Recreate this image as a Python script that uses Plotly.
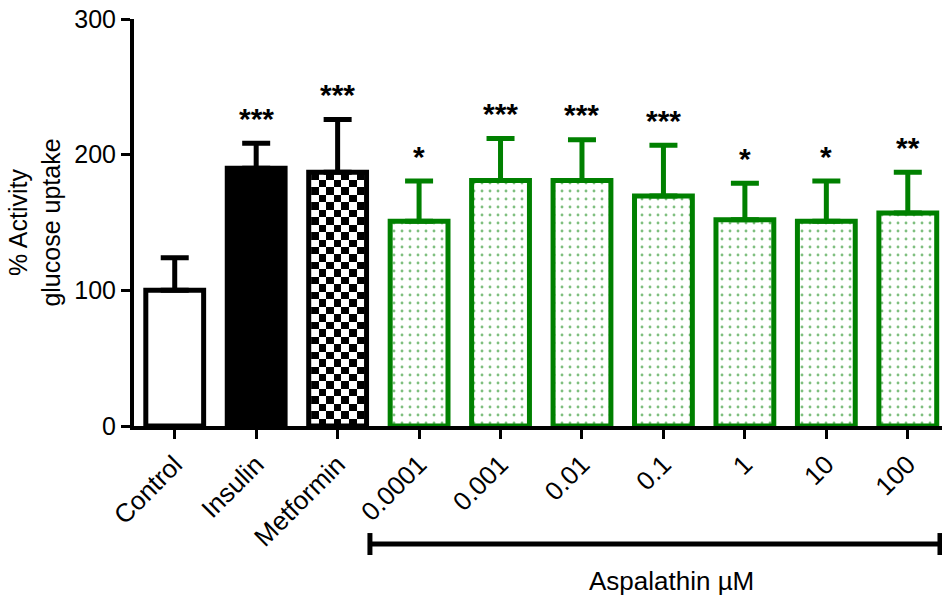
import plotly.graph_objects as go

categories = ["Control", "Insulin", "Metformin", "0.0001", "0.001", "0.01", "0.1", "1", "10", "100"]
means = [100, 190, 187, 151, 181, 181, 169.5, 152, 151, 157]
sems = [24, 18.5, 39, 29.5, 31, 30, 37.5, 27, 29.5, 30]
stars = ["", "***", "***", "*", "***", "***", "***", "*", "*", "**"]

group_a = [0, 1, 2]
group_b = [3, 4, 5, 6, 7, 8, 9]
GREEN = "rgb(0,128,0)"
FONT = "Arial, Liberation Sans, sans-serif"
BAR_W = 0.71

fig = go.Figure()

# checkerboard fill for Metformin (heatmap underneath transparent bar)
mi = 2
ncol, nrow = 7, 34
half = BAR_W / 2 - 0.03
xe = [mi - half + k * (2 * half) / ncol for k in range(ncol + 1)]
ye = [k * means[mi] / nrow for k in range(nrow + 1)]
z = [[(i + j) % 2 for j in range(ncol)] for i in range(nrow)]
fig.add_trace(go.Heatmap(x=xe, y=ye, z=z, colorscale=[[0, "white"], [1, "black"]],
                         showscale=False, hoverinfo="skip"))

fig.add_trace(go.Bar(
    x=group_a, y=[means[i] for i in group_a], width=BAR_W,
    marker=dict(color=["white", "black", "rgba(0,0,0,0)"], line=dict(color="black", width=5)),
    error_y=dict(type="data", symmetric=False, array=[sems[i] for i in group_a],
                 arrayminus=[0] * len(group_a), color="black", thickness=5, width=14),
    showlegend=False))

fig.add_trace(go.Bar(
    x=group_b, y=[means[i] for i in group_b], width=BAR_W,
    marker=dict(color="white", line=dict(color=GREEN, width=5),
                pattern=dict(shape=".", fgcolor=GREEN, bgcolor="white", size=8, solidity=0.1)),
    error_y=dict(type="data", symmetric=False, array=[sems[i] for i in group_b],
                 arrayminus=[0] * len(group_b), color=GREEN, thickness=5, width=14),
    showlegend=False))

for i, s in enumerate(stars):
    if s:
        fig.add_annotation(x=i, y=means[i] + sems[i], text="<b>" + s + "</b>", showarrow=False,
                           yanchor="middle", yshift=25, font=dict(size=30, color="black", family=FONT))

# Aspalathin bracket
fig.add_shape(type="line", xref="paper", yref="paper", x0=0.292, x1=0.9975, y0=-0.290, y1=-0.290,
              line=dict(color="black", width=5))
fig.add_shape(type="line", xref="paper", yref="paper", x0=0.292, x1=0.292, y0=-0.263, y1=-0.317,
              line=dict(color="black", width=5))
fig.add_shape(type="line", xref="paper", yref="paper", x0=0.9975, x1=0.9975, y0=-0.263, y1=-0.317,
              line=dict(color="black", width=5))
fig.add_annotation(xref="paper", yref="paper", x=0.665, y=-0.380, text="Aspalathin µM",
                   showarrow=False, yanchor="middle", font=dict(size=26, color="black", family=FONT))

fig.update_layout(
    width=942, height=603,
    margin=dict(l=134, r=0, t=19, b=177),
    plot_bgcolor="white", paper_bgcolor="white",
    font=dict(family=FONT, color="black", size=25),
    barmode="overlay",
    xaxis=dict(range=[-0.5, 9.42], tickvals=list(range(len(categories))), ticktext=categories,
               tickangle=-45, showline=True, linecolor="black", linewidth=4, automargin=False,
               ticks="outside", ticklen=9, tickwidth=3, tickcolor="black",
               showgrid=False, zeroline=False, tickfont=dict(size=26)),
    yaxis=dict(range=[0, 300], tickvals=[0, 100, 200, 300], showline=True, linecolor="black",
               linewidth=4, ticks="outside", ticklen=9, tickwidth=3, tickcolor="black",
               showgrid=False, zeroline=False, tickfont=dict(size=25), automargin=False,
               title=dict(text="% Activity<br>glucose uptake", font=dict(size=25), standoff=8)),
)

fig.write_html("out.html", config={"displayModeBar": False},
               post_script="document.body.style.margin='0px';")
